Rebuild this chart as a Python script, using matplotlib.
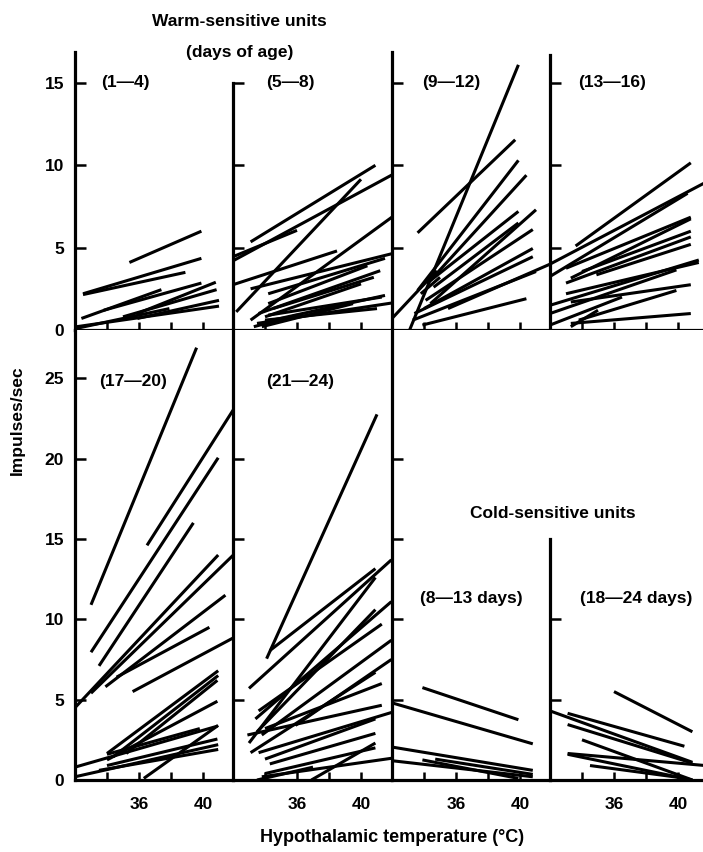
import matplotlib.pyplot as plt

plt.rcParams['font.family'] = ['Liberation Sans', 'DejaVu Sans']
plt.rcParams['font.weight'] = 'bold'

W, H = 703, 852

# each unit: (temp start, impulses start, temp end, impulses end)
warm_1_4 = [
    (35.4, 4.1, 39.9, 6.0), (32.5, 2.2, 39.9, 4.35), (32.5, 2.15, 38.9, 3.5),
    (32.4, 0.7, 37.4, 2.45), (33.8, 1.2, 39.9, 2.85), (35.9, 1.0, 40.8, 2.9),
    (35.0, 0.8, 40.85, 2.45), (35.9, 0.7, 41.0, 1.8), (32.1, 0.2, 41.0, 1.45),
    (32.1, 0.1, 37.9, 1.3),
]
warm_5_8 = [
    (33.1, 5.35, 40.9, 10.0), (32.0, 4.2, 42.0, 9.45), (32.0, 4.45, 36.0, 6.05),
    (32.2, 1.1, 40.0, 9.15), (32.0, 2.75, 38.5, 4.8), (33.1, 0.6, 42.0, 6.9),
    (33.1, 2.5, 42.0, 4.65), (34.2, 2.2, 41.5, 4.35), (34.2, 1.6, 40.4, 3.9),
    (33.6, 1.0, 41.2, 3.6), (34.5, 1.3, 40.8, 3.2), (34.0, 0.8, 40.0, 2.8),
    (34.0, 0.5, 41.5, 2.1), (34.2, 0.9, 41.3, 2.0), (33.8, 0.2, 39.5, 1.6),
    (33.5, 0.4, 42.0, 1.65), (34.0, 0.6, 41.0, 1.3), (33.3, 0.2, 36.0, 0.9),
]
warm_9_12 = [
    (33.1, 0.0, 39.9, 16.1), (33.6, 5.9, 39.7, 11.55), (33.6, 2.4, 39.9, 10.3),
    (34.2, 2.8, 40.4, 9.4), (34.4, 3.0, 39.9, 7.2), (34.6, 2.6, 39.9, 6.5),
    (34.4, 1.6, 41.0, 7.3), (34.1, 1.8, 40.8, 6.1), (34.0, 1.3, 40.8, 4.95),
    (33.4, 1.0, 40.8, 4.45), (33.3, 0.6, 41.0, 3.55), (33.9, 0.3, 40.4, 1.9),
    (35.5, 1.3, 42.0, 4.05), (32.0, 0.7, 34.8, 3.6), (33.8, 2.2, 35.0, 3.2),
]
warm_13_16 = [
    (33.6, 5.1, 40.8, 10.15), (32.0, 4.0, 41.6, 8.9), (32.0, 3.25, 40.6, 8.3),
    (33.0, 3.75, 40.8, 6.85), (33.3, 3.15, 40.8, 6.75), (34.0, 3.55, 40.8, 6.0),
    (33.0, 2.85, 40.8, 5.65), (34.9, 3.35, 40.8, 5.2), (32.0, 1.5, 41.3, 4.25),
    (33.0, 2.2, 41.3, 4.1), (32.0, 1.0, 39.9, 3.65), (33.3, 1.7, 40.8, 2.75),
    (33.3, 0.4, 40.8, 1.0), (32.0, 0.3, 36.5, 2.0), (33.8, 0.6, 39.9, 2.4),
    (33.3, 0.2, 35.0, 1.2),
]
warm_17_20 = [
    (33.0, 10.9, 39.6, 26.9), (36.5, 14.6, 42.0, 23.2), (33.0, 7.95, 40.95, 20.05),
    (33.5, 7.1, 39.4, 16.0), (32.0, 4.5, 40.95, 14.0), (33.0, 5.4, 42.0, 14.1),
    (33.9, 5.8, 41.4, 11.5), (34.6, 6.4, 40.4, 9.5), (35.6, 5.5, 42.0, 8.9),
    (34.0, 1.65, 40.95, 6.8), (34.4, 1.45, 40.95, 6.5), (35.2, 1.65, 40.9, 6.2),
    (34.0, 1.25, 40.9, 4.9), (32.0, 0.8, 40.9, 3.35), (34.0, 1.6, 39.8, 3.2),
    (36.3, 0.1, 40.95, 3.4), (32.0, 0.2, 40.95, 2.2), (33.5, 0.6, 40.95, 1.9),
    (34.0, 0.9, 40.9, 2.55),
]
warm_21_24 = [
    (34.1, 7.55, 41.0, 22.75), (34.3, 8.05, 40.9, 13.15), (33.0, 5.7, 41.9, 13.7),
    (33.0, 2.3, 40.9, 12.6), (33.4, 3.8, 41.9, 11.1), (33.6, 4.3, 41.3, 9.7),
    (33.5, 3.0, 40.9, 10.6), (33.8, 2.8, 41.9, 8.7), (33.1, 1.7, 40.9, 6.7),
    (34.0, 3.2, 41.3, 6.0), (35.9, 3.4, 41.9, 7.5), (32.9, 2.8, 41.3, 4.65),
    (33.6, 1.7, 41.9, 4.2), (34.0, 1.3, 40.9, 3.8), (34.3, 1.0, 40.9, 2.9),
    (34.0, 0.4, 40.9, 2.0), (33.8, 0.2, 41.9, 1.35), (36.9, 0.0, 40.9, 2.3),
    (33.5, 0.0, 37.0, 0.8),
]
cold_8_13 = [
    (33.9, 5.75, 39.9, 3.75), (32.0, 4.8, 40.8, 2.25), (32.0, 2.05, 40.8, 0.6),
    (32.0, 1.2, 40.8, 0.2), (33.9, 1.25, 39.9, 0.1), (34.7, 1.3, 40.8, 0.35),
]
cold_18_24 = [
    (36.0, 5.5, 40.9, 3.0), (32.0, 4.3, 40.9, 1.1), (33.1, 4.15, 40.4, 2.1),
    (33.1, 3.45, 40.9, 1.05), (34.0, 2.5, 40.9, 0.0), (33.1, 1.65, 41.7, 0.9),
    (33.1, 1.6, 40.9, 0.0), (34.5, 0.9, 40.5, 0.1),
]

temp_ticks = [34, 36, 38, 40]
temp_labels = ['', '36', '', '40']

fig = plt.figure(figsize=(W / 100, H / 100), dpi=100)


def panel(x0, y_base, h, ymax, segs, yticks, spine_top=None, ylabels=False, xlabels=False):
    ax = fig.add_axes([x0 / W, 1 - y_base / H, 158 / W, h / H])
    for t0, r0, t1, r1 in segs:
        ax.plot([t0, t1], [r0, r1], color='black', lw=2.2, solid_capstyle='butt')
    ax.set_xlim(32, 41.875)
    ax.set_ylim(0, ymax)
    for s in ('top', 'right'):
        ax.spines[s].set_visible(False)
    for s in ('left', 'bottom'):
        ax.spines[s].set_linewidth(2.3)
    if spine_top is not None:
        ax.spines['left'].set_bounds(0, spine_top)
    ax.set_xticks(temp_ticks)
    ax.set_yticks(yticks)
    ax.tick_params(direction='in', width=1.8, labelsize=12.5)
    ax.tick_params(axis='y', length=8, pad=8)
    ax.tick_params(axis='x', length=6, pad=12)
    if xlabels:
        ax.set_xticklabels(temp_labels)
    else:
        ax.tick_params(axis='x', labelbottom=False)
    if ylabels:
        ax.set_yticklabels([str(v) for v in yticks])
    else:
        ax.tick_params(axis='y', labelleft=False)
    return ax


top_h = 278
top_max = top_h / 16.47
panel(75, 330, top_h, top_max, warm_1_4, [0, 5, 10, 15], ylabels=True)
panel(233, 330, top_h, top_max, warm_5_8, [5, 10, 15], spine_top=15)
panel(392, 330, top_h, top_max, warm_9_12, [5, 10, 15])
panel(550, 330, top_h, top_max, warm_13_16, [5, 10, 15], spine_top=16.7)

bot_h = 450
bot_max = 28.0
panel(75, 780, bot_h, bot_max, warm_17_20, [0, 5, 10, 15, 20, 25], ylabels=True, xlabels=True)
panel(233, 780, bot_h, bot_max, warm_21_24, [5, 10, 15, 20], xlabels=True)
panel(392, 780, bot_h, bot_max, cold_8_13, [5, 10, 15, 20], xlabels=True)
panel(550, 780, bot_h, bot_max, cold_18_24, [5, 10], spine_top=15, xlabels=True)


def label(px, py, s, size=12.5, **kw):
    fig.text(px / W, 1 - py / H, s, fontsize=size, ha='center', va='center', **kw)


label(239, 22, 'Warm-sensitive units')
label(240, 53, '(days of age)')
label(125, 83, '(1—4)')
label(290, 83, '(5—8)')
label(451, 83, '(9—12)')
label(612, 83, '(13—16)')
label(133, 382, '(17—20)')
label(300, 382, '(21—24)')
label(553, 513, 'Cold-sensitive units')
label(471, 598, '(8—13 days)')
label(636, 598, '(18—24 days)')
label(17, 420, 'Impulses/sec', rotation=90)
label(392, 838, 'Hypothalamic temperature (°C)', size=13)

fig.savefig('out.png', dpi=100)
